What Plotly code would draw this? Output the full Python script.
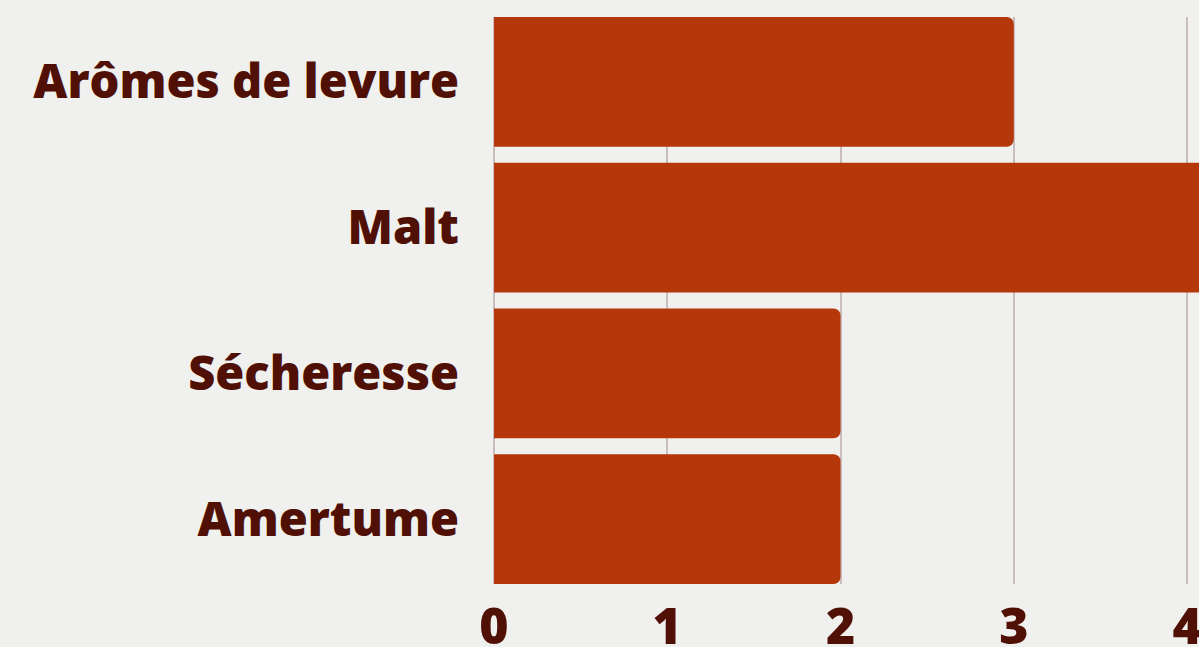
import plotly.graph_objects as go

categories = ["Arômes de levure", "Malt", "Sécheresse", "Amertume"]
scores = [3, 5, 2, 2]
x_ticks = [0, 1, 2, 3, 4]

bar_color = "#b5380a"
text_color = "#501005"
bg = "#f0f0ee"
font_family = "Open Sans"

fig = go.Figure()
fig.add_trace(go.Bar(
    x=scores,
    y=categories,
    orientation="h",
    marker=dict(color=bar_color, cornerradius=7, line=dict(width=0)),
    width=0.89,
))

fig.update_layout(
    width=1199,
    height=647,
    paper_bgcolor=bg,
    plot_bgcolor=bg,
    margin=dict(l=494, r=0, t=17, b=63),
    showlegend=False,
    font=dict(family=font_family, color=text_color),
    xaxis=dict(
        range=[0, 4.069],
        tickvals=x_ticks,
        showgrid=True,
        gridcolor="#c9bdbd",
        gridwidth=1.5,
        zeroline=True,
        zerolinecolor="#c9bdbd",
        zerolinewidth=1.5,
        tickfont=dict(size=50, family=font_family, weight=800, color=text_color),
        ticklabelstandoff=9,
        ticklabeloverflow="allow",
        automargin=False,
        fixedrange=True,
    ),
    yaxis=dict(
        categoryorder="array",
        categoryarray=categories,
        range=[3.445, -0.445],
        showgrid=False,
        zeroline=False,
        tickfont=dict(size=47, family=font_family, weight=800, color=text_color),
        ticklabelstandoff=34,
        automargin=False,
        fixedrange=True,
    ),
)

# page has a default body margin; drop it so the figure sits at the corner
fig.write_html(
    "out.html",
    config={"displayModeBar": False},
    post_script="document.body.style.margin='0';document.body.style.overflow='hidden';"
                "document.body.style.background='#f0f0ee';",
)
